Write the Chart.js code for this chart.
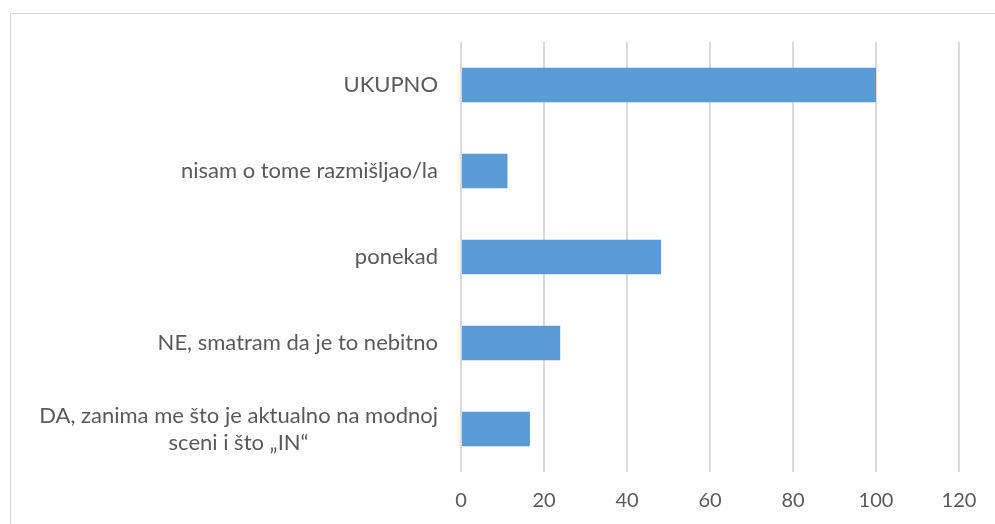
<!DOCTYPE html>
<html>
<head>
<meta charset="utf-8">
<script src="https://cdn.jsdelivr.net/npm/chart.js@4"></script>
<style>
  html, body { margin: 0; padding: 0; background: #fff; }
</style>
</head>
<body>
<canvas id="grafikon" width="995" height="524"></canvas>
<script>
/* podaci */
const kategorije = [
    'UKUPNO',
    'nisam o tome razmišljao/la',
    'ponekad',
    'NE, smatram da je to nebitno',
    ['DA, zanima me što je aktualno na modnoj', 'sceni i što \u201EIN\u201C']
];
const vrijednosti = [100, 11.2, 48.2, 23.9, 16.6];
const osX = { min: 0, max: 120, korak: 20 };

const FONT = 'Lato, "Open Sans", sans-serif';
const VEL = 22;
const SIVA = '#595959';

/* okvir oko grafikona (samo lijevo i gore se vidi) */
const okvir = {
    id: 'okvir',
    beforeDraw(chart) {
        const ctx = chart.ctx;
        ctx.save();
        ctx.strokeStyle = '#d9d9d9';
        ctx.lineWidth = 1;
        ctx.strokeRect(10.5, 13.5, 1100, 600);
        ctx.restore();
    }
};

/* oznake kategorija - redovi centrirani jedan ispod drugog kao u Excelu */
const oznake = {
    id: 'oznake',
    afterDraw(chart) {
        const ctx = chart.ctx;
        const y = chart.scales.y;
        const desno = 438;
        const visinaReda = 27;
        ctx.save();
        ctx.font = VEL + 'px ' + FONT;
        ctx.fillStyle = SIVA;
        ctx.textAlign = 'center';
        ctx.textBaseline = 'middle';
        kategorije.forEach((k, i) => {
            const redovi = Array.isArray(k) ? k : [k];
            const sirina = Math.max(...redovi.map(r => ctx.measureText(r).width));
            const cx = desno - sirina / 2;
            const cy = y.getPixelForTick(i);
            redovi.forEach((r, j) => {
                ctx.fillText(r, cx, cy + (j - (redovi.length - 1) / 2) * visinaReda);
            });
        });
        ctx.restore();
    }
};

new Chart(document.getElementById('grafikon'), {
    type: 'bar',
    data: {
        labels: kategorije,
        datasets: [{
            data: vrijednosti,
            backgroundColor: '#5b9bd5',
            borderWidth: 0,
            barPercentage: 0.4,
            categoryPercentage: 1
        }]
    },
    options: {
        indexAxis: 'y',
        responsive: false,
        animation: false,
        layout: {
            padding: { top: 42, right: 36, left: 0, bottom: 0 }
        },
        scales: {
            x: {
                min: osX.min,
                max: osX.max,
                grid: { color: '#d9d9d9', drawTicks: false, lineWidth: 2 },
                border: { display: false },
                ticks: {
                    stepSize: osX.korak,
                    color: SIVA,
                    padding: 17,
                    font: { family: FONT, size: 20 }
                },
                afterFit(s) { s.height = 52; }
            },
            y: {
                grid: { display: false },
                border: { display: false },
                ticks: { display: false },
                afterFit(s) { s.width = 461; }
            }
        },
        plugins: {
            legend: { display: false },
            tooltip: { enabled: false }
        }
    },
    plugins: [okvir, oznake]
});
</script>
</body>
</html>
